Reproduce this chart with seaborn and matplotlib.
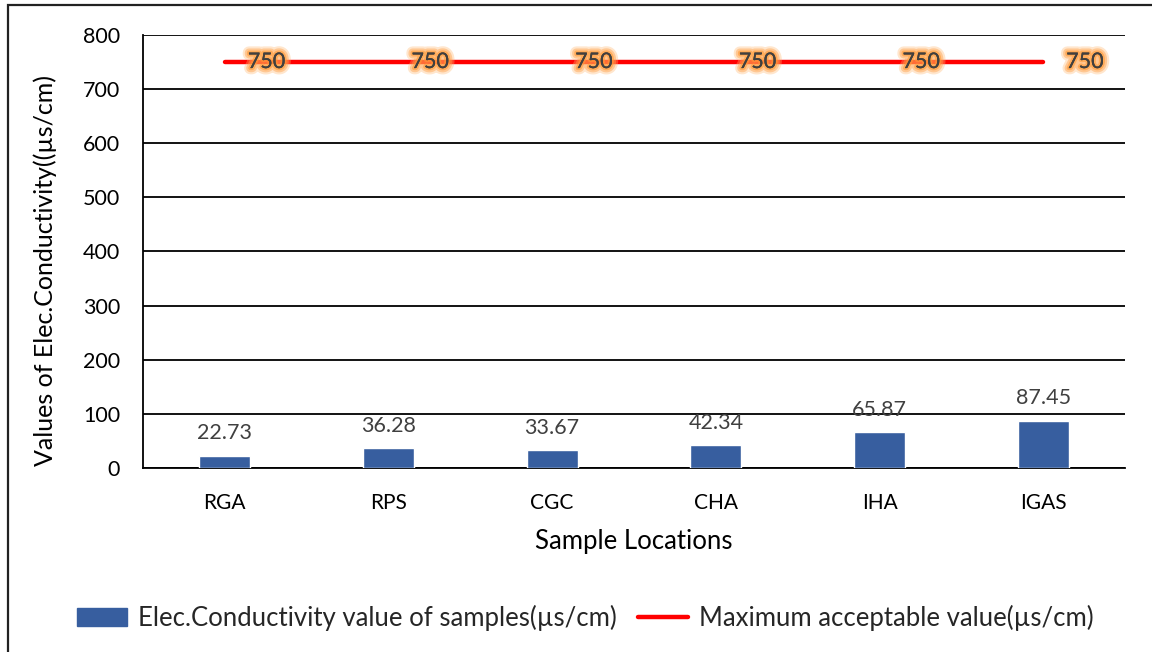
import matplotlib
matplotlib.use("Agg")
import matplotlib.pyplot as plt
import matplotlib.patheffects as pe
from matplotlib.patches import Patch, Rectangle
from matplotlib.lines import Line2D
import seaborn as sns
import pandas as pd

categories = ["RGA", "RPS", "CGC", "CHA", "IHA", "IGAS"]
conductivity = [22.73, 36.28, 33.67, 42.34, 65.87, 87.45]
max_acceptable = [750, 750, 750, 750, 750, 750]
yticks = [0, 100, 200, 300, 400, 500, 600, 700, 800]

bar_label = "Elec.Conductivity value of samples(\u00b5s/cm)"
line_label = "Maximum acceptable value(\u00b5s/cm)"

sns.set_theme(style="white")
plt.rcParams['font.family'] = ['Lato', 'DejaVu Sans']

df = pd.DataFrame({"loc": categories, "ec": conductivity, "max": max_acceptable})

fig = plt.figure(figsize=(11.52, 6.52), dpi=100)
ax = fig.add_axes([143/1152, 1 - 468/652, (1125 - 143)/1152, (468 - 35)/652])

bar_color = "#375E9F"
sns.barplot(data=df, x="loc", y="ec", color=bar_color, width=0.31, ax=ax,
            saturation=1, zorder=3)
sns.pointplot(data=df, x="loc", y="max", color="#FF0000", markers="",
              linewidth=3.2, ax=ax, zorder=4, solid_capstyle="round")

ax.set_ylim(0, 800)
ax.set_yticks(yticks)
ax.set_xlim(-0.5, len(categories) - 0.5)
ax.yaxis.grid(True, color="black", linewidth=1.3, zorder=0)
ax.set_axisbelow(True)
for s in ["top", "right"]:
    ax.spines[s].set_visible(False)
ax.spines["left"].set_color("black")
ax.spines["left"].set_linewidth(1.3)
ax.spines["bottom"].set_color("black")
ax.spines["bottom"].set_linewidth(1.3)
ax.tick_params(axis="y", length=0, labelsize=15.5, colors="black", pad=16.5)
ax.tick_params(axis="x", length=0, labelsize=15, colors="black", pad=18)
ax.set_xlabel("Sample Locations", fontsize=18.5, color="black", va="center")
ax.set_ylabel("Values of Elec.Conductivity((\u00b5s/cm)", fontsize=18, color="black", va="center")
ax.xaxis.set_label_coords(0.5, -(541 - 468) / 433)
ax.yaxis.set_label_coords((45 - 143) / 982, 1 - (271 - 35) / 433)

for i, v in enumerate(conductivity):
    ax.annotate(f"{v:.2f}", (i, v), xytext=(0, 16), textcoords="offset points",
                ha="center", va="center", fontsize=15.5, color="#404040")
glow = [pe.withStroke(linewidth=9, foreground="#FFB870", alpha=0.35),
        pe.withStroke(linewidth=6, foreground="#FFA24A", alpha=0.45),
        pe.withStroke(linewidth=3, foreground="#FF9A36", alpha=0.6),
        pe.Normal()]
for i, v in enumerate(max_acceptable):
    ax.annotate(f"{v}", (i, v), xytext=(30, 0), textcoords="offset points",
                ha="center", va="center", fontsize=15.5, color="#404040", zorder=6,
                path_effects=glow)

handles = [Patch(facecolor=bar_color, edgecolor=bar_color, label=bar_label),
           Line2D([0], [0], color="#FF0000", linewidth=3.2, label=line_label,
                  solid_capstyle="round")]
fig.legend(handles=handles, loc="center", bbox_to_anchor=(0.508, 1 - 618/652), ncol=2,
           frameon=False, fontsize=18.5, handlelength=1.95, handleheight=0.65,
           columnspacing=0.8, handletextpad=0.45)

border = Rectangle((8/1152, -0.05), 1.2, 1 - 5/652 + 0.05, transform=fig.transFigure,
                   fill=False, edgecolor="#222222", linewidth=1.6)
fig.add_artist(border)

fig.savefig("out.png", dpi=100, facecolor="white")
